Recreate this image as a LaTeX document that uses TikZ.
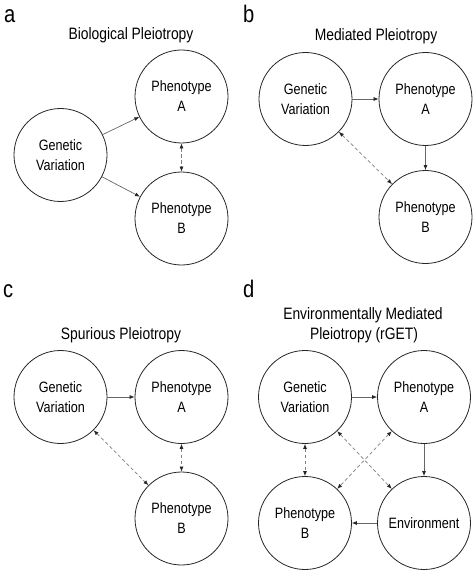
\documentclass[tikz,border=0pt]{standalone}
\usepackage{fontspec}
\setmainfont[FakeStretch=0.84]{Liberation Sans}
\usetikzlibrary{arrows.meta}
\begin{document}
\begin{tikzpicture}[x=1pt,y=-1pt,
  circ/.style={circle,draw=black!85,line width=0.8pt,minimum size=93pt,inner sep=0pt,align=center,font=\fontsize{15}{20}\selectfont},
  lbl/.style={anchor=base west,inner sep=0pt,font=\fontsize{24}{28}\selectfont},
  ttl/.style={anchor=base,inner sep=0pt,font=\fontsize{16.5}{20}\selectfont},
  tip/.style={},
  solidarrow/.style={draw=black!60,line width=0.7pt,-{Latex[length=5pt,width=4pt,color=black!85]}},
  dasharrow/.style={draw=black!50,line width=0.7pt,dash pattern=on 3.5pt off 2.5pt,{Latex[length=5pt,width=4pt,color=black!85]}-{Latex[length=5pt,width=4pt,color=black!85]}}]
\useasboundingbox (0,0) rectangle (474,572);
% panel a
\node[lbl] (la) at (4,23) {a};
\node[ttl] (ta) at (131,40) {Biological Pleiotropy};
\node[circ] (aG) at (60.5,155) {Genetic\\Variation};
\node[circ] (aA) at (181.5,96.5) {Phenotype\\A};
\node[circ] (aB) at (181.5,218.5) {Phenotype\\B};
\draw[solidarrow] (aG) -- (aA);
\draw[solidarrow] (aG) -- (aB);
\draw[dasharrow] (aA) -- (aB);
% panel b
\node[lbl] (lb) at (243,23) {b};
\node[ttl] (tb) at (376,41) {Mediated Pleiotropy};
\node[circ] (bG) at (305.5,99) {Genetic\\Variation};
\node[circ] (bA) at (425.5,99) {Phenotype\\A};
\node[circ] (bB) at (425.5,217) {Phenotype\\B};
\draw[solidarrow] (bG) -- (bA);
\draw[solidarrow] (bA) -- (bB);
\draw[dasharrow] (bG) -- (bB);
% panel c
\node[lbl] (lc) at (3,297) {c};
\node[ttl] (tc) at (121,339) {Spurious Pleiotropy};
\node[circ] (cG) at (60.5,397) {Genetic\\Variation};
\node[circ] (cA) at (181.5,397) {Phenotype\\A};
\node[circ] (cB) at (181.5,518.5) {Phenotype\\B};
\draw[solidarrow] (cG) -- (cA);
\draw[dasharrow] (cA) -- (cB);
\draw[dasharrow] (cG) -- (cB);
% panel d
\node[lbl] (ld) at (243,297) {d};
\node[ttl] (td1) at (363,319) {Environmentally Mediated};
\node[ttl] (td2) at (364,339) {Pleiotropy (rGET)};
\node[circ] (dG) at (305,397) {Genetic\\Variation};
\node[circ] (dA) at (424,397) {Phenotype\\A};
\node[circ] (dB) at (305,523) {Phenotype\\B};
\node[circ] (dE) at (424,523) {Environment};
\draw[solidarrow] (dG) -- (dA);
\draw[solidarrow] (dA) -- (dE);
\draw[solidarrow] (dE) -- (dB);
\draw[dasharrow] (dG) -- (dB);
\draw[dasharrow] (dG) -- (dE);
\draw[dasharrow] (dA) -- (dB);
\end{tikzpicture}
\end{document}
